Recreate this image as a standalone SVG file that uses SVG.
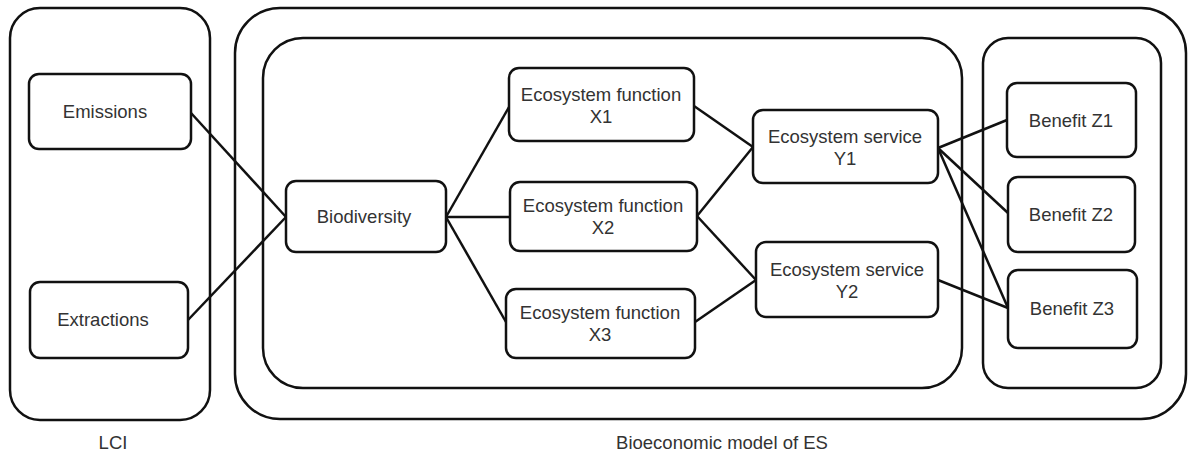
<svg xmlns="http://www.w3.org/2000/svg" width="1189" height="455" viewBox="0 0 1189 455">
<style>
.box{fill:none;stroke:#111;stroke-width:2.5}
.node{fill:#fff;stroke:#111;stroke-width:2.5}
.t{font-family:"Liberation Sans",Arial,sans-serif;font-size:18.5px;fill:#333;text-anchor:middle}
.c{stroke:#111;stroke-width:2.5;fill:none}
</style>
<rect width="1189" height="455" fill="#fff"/>
<g id="containers">
<rect class="box" x="10" y="8" width="200" height="412" rx="30"/>
<rect class="box" x="235" y="8" width="951" height="411" rx="45"/>
<rect class="box" x="263" y="38" width="699" height="350" rx="40"/>
<rect class="box" x="983" y="38" width="178" height="350" rx="25"/>
<text class="t" x="113" y="449">LCI</text>
<text class="t" x="722" y="449">Bioeconomic model of ES</text>
</g>
<g id="connectors">
<line class="c" x1="191" y1="113" x2="286" y2="217"/>
<line class="c" x1="188" y1="320" x2="286" y2="217"/>
<line class="c" x1="446" y1="217" x2="509" y2="107"/>
<line class="c" x1="446" y1="217" x2="510" y2="217"/>
<line class="c" x1="446" y1="217" x2="506" y2="322"/>
<line class="c" x1="694" y1="106" x2="753" y2="147"/>
<line class="c" x1="697" y1="216" x2="753" y2="147"/>
<line class="c" x1="697" y1="216" x2="756" y2="280"/>
<line class="c" x1="695" y1="322" x2="756" y2="280"/>
<line class="c" x1="938" y1="148" x2="1007" y2="120"/>
<line class="c" x1="938" y1="148" x2="1008" y2="213"/>
<line class="c" x1="938" y1="148" x2="1008" y2="308"/>
<line class="c" x1="938" y1="280" x2="1008" y2="308"/>
</g>
<g id="emissions">
<rect class="node" x="29" y="74" width="162" height="75" rx="10"/>
<text class="t" x="105" y="118">Emissions</text>
</g>
<g id="extractions">
<rect class="node" x="30" y="282" width="158" height="76" rx="10"/>
<text class="t" x="103" y="326">Extractions</text>
</g>
<g id="biodiversity">
<rect class="node" x="286" y="181" width="160" height="71" rx="10"/>
<text class="t" x="364" y="223">Biodiversity</text>
</g>
<g id="fx1">
<rect class="node" x="509" y="68" width="185" height="73" rx="10"/>
<text class="t" x="601" y="101">Ecosystem function</text>
<text class="t" x="601" y="123">X1</text>
</g>
<g id="fx2">
<rect class="node" x="510" y="182" width="187" height="69" rx="10"/>
<text class="t" x="603" y="212">Ecosystem function</text>
<text class="t" x="603" y="234">X2</text>
</g>
<g id="fx3">
<rect class="node" x="506" y="289" width="189" height="69" rx="10"/>
<text class="t" x="600" y="319">Ecosystem function</text>
<text class="t" x="600" y="341">X3</text>
</g>
<g id="sy1">
<rect class="node" x="753" y="110" width="185" height="73" rx="10"/>
<text class="t" x="845" y="143">Ecosystem service</text>
<text class="t" x="845" y="165">Y1</text>
</g>
<g id="sy2">
<rect class="node" x="756" y="242" width="182" height="75" rx="10"/>
<text class="t" x="847" y="276">Ecosystem service</text>
<text class="t" x="847" y="298">Y2</text>
</g>
<g id="bz1">
<rect class="node" x="1007" y="83" width="129" height="74" rx="10"/>
<text class="t" x="1071" y="127">Benefit Z1</text>
</g>
<g id="bz2">
<rect class="node" x="1008" y="177" width="127" height="75" rx="10"/>
<text class="t" x="1071" y="221">Benefit Z2</text>
</g>
<g id="bz3">
<rect class="node" x="1008" y="270" width="129" height="78" rx="10"/>
<text class="t" x="1072" y="315">Benefit Z3</text>
</g>
</svg>
